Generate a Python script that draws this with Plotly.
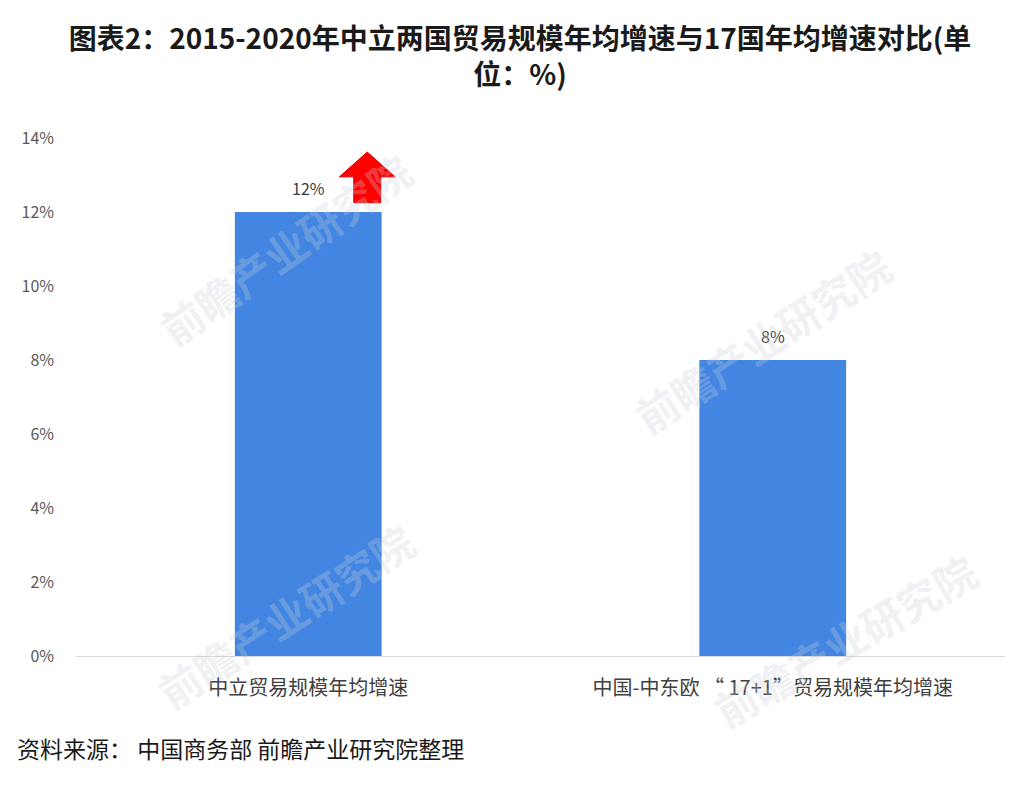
import plotly.graph_objects as go

categories = ["中立贸易规模年均增速", "中国-中东欧 “ 17+1”贸易规模年均增速"]
values = [12, 8]
value_labels = ["12%", "8%"]
tick_vals = [0, 2, 4, 6, 8, 10, 12, 14]
tick_text = ["0%", "2%", "4%", "6%", "8%", "10%", "12%", "14%"]

title_text = "图表2：2015-2020年中立两国贸易规模年均增速与17国年均增速对比(单<br>位：%)"
source_text = "资料来源： 中国商务部 前瞻产业研究院整理"
watermark_text = "前瞻产业研究院"

FONT = "Noto Sans CJK SC"

fig = go.Figure()
fig.add_trace(go.Bar(
    x=[0, 1], y=values, width=0.316,
    marker=dict(color="#4386e2", line=dict(width=0)),
    showlegend=False, hoverinfo="y",
))

annotations = []
# value labels above bars
for i, (v, lab) in enumerate(zip(values, value_labels)):
    annotations.append(dict(x=i, y=v, xref="x", yref="y", text=lab, showarrow=False,
                            yanchor="middle", yshift=24,
                            font=dict(family=FONT, size=16, color="#404040")))

# faint watermarks
for (wx, wy, ang) in [(0.225, 0.786, -35), (0.738, 0.610, -33), (0.225, 0.079, -33), (0.828, 0.031, -30)]:
    annotations.append(dict(x=wx, y=wy, xref="paper", yref="paper", text=watermark_text,
                            xanchor="center", yanchor="middle",
                            showarrow=False, textangle=ang,
                            font=dict(family=FONT, size=42, color="rgba(200,206,216,0.30)",
                                      weight="bold")))

annotations.append(dict(text=source_text, xref="paper", yref="paper",
                        x=-0.0657, y=-0.1776, xanchor="left", yanchor="middle", showarrow=False,
                        font=dict(family=FONT, size=23, color="#1a1a1a")))

# red up arrow (decoration) near first bar
ax, stem_hw, head_hw = 0.127, 0.029, 0.060
fig.add_shape(
    type="path", xref="x", yref="y",
    path=(f"M {ax-stem_hw} 12.25 L {ax-stem_hw} 12.95 L {ax-head_hw} 12.95 "
          f"L {ax} 13.62 L {ax+head_hw} 12.95 L {ax+stem_hw} 12.95 L {ax+stem_hw} 12.25 Z"),
    fillcolor="#ff0000", line=dict(color="#e00000", width=1),
)

fig.update_layout(
    width=1024, height=786,
    paper_bgcolor="white", plot_bgcolor="white",
    margin=dict(l=68, r=27, t=130, b=138),
    title=dict(text=title_text, x=0.5, xanchor="center", y=0.948, yanchor="top",
               font=dict(family=FONT, size=28, color="#1a1a1a", weight="bold")),
    xaxis=dict(range=[-0.5, 1.5], tickvals=[0, 1], ticktext=categories,
               showgrid=False, zeroline=False, showline=False, ticks="",
               ticklabelstandoff=18,
               tickfont=dict(family=FONT, size=20, color="#404040")),
    yaxis=dict(range=[0, 14], tickvals=tick_vals, ticktext=tick_text,
               showgrid=False, zeroline=True, zerolinecolor="#d9d9d9", zerolinewidth=1,
               showline=False, ticks="", ticklabelstandoff=21,
               tickfont=dict(family=FONT, size=16, color="#595959")),
    annotations=annotations,
)

fig.write_html("out.html")
